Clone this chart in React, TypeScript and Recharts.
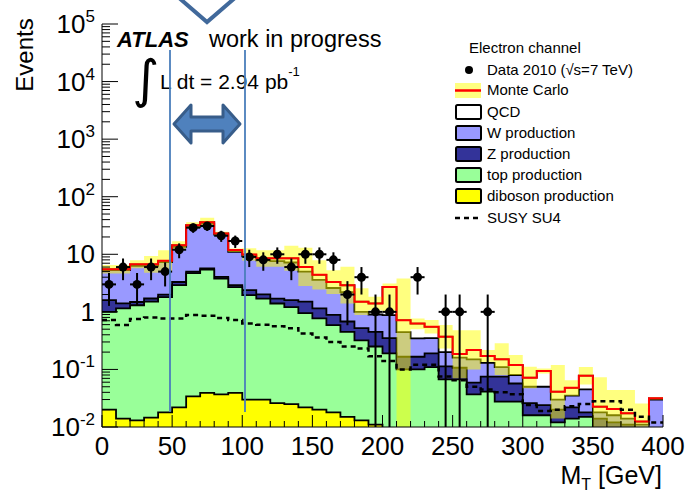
import { ComposedChart, Area, Line, Scatter, ErrorBar, XAxis, YAxis } from "recharts";

const W = 689;
const H = 494;
const FONT = "'Liberation Sans', Arial, Helvetica, sans-serif";

// 10 GeV bins in transverse mass
const binEdges = [0, 10, 20, 30, 40, 50, 60, 70, 80, 90, 100, 110, 120, 130, 140, 150, 160, 170, 180, 190, 200,
  210, 220, 230, 240, 250, 260, 270, 280, 290, 300, 310, 320, 330, 340, 350, 360, 370, 380, 390, 400];

// observed events per bin
const dataCounts = [3, 6, 3, 6, 5, 12, 29, 31, 21, 17, 9, 8, 10, 6, 10, 10, 8, 2, 4, 1,
  1, 0, 4, 0, 1, 1, 0, 1, 0, 0, 0, 0, 0, 0, 0, 0, 0, 0, 0, 0];

// expected events per bin, one array per process (stacked bottom to top)
const diboson = [0.02, 0.014, 0.013, 0.0145, 0.018, 0.022, 0.034, 0.039, 0.037, 0.039, 0.03, 0.03, 0.026, 0.025, 0.022, 0.02, 0.018, 0.015, 0.013, 0.011,
  0.009, 0.008, 0.007, 0.006, 0.004, 0.004, 0.004, 0.004, 0.004, 0.004, 0.004, 0.004, 0.004, 0.004, 0.004, 0.004, 0.004, 0.004, 0.004, 0.004];
const topProd = [0.98, 1.14, 1.29, 1.49, 1.78, 2.88, 4.67, 5.36, 3.76, 2.66, 1.93, 1.67, 1.37, 1.18, 0.93, 0.75, 0.57, 0.435, 0.307, 0.239,
  0.181, 0.092, 0.093, 0.104, 0.063, 0.063, 0.033, 0.037, 0.0235, 0.0235, 0.012, 0.012, 0.008, 0.01, 0.011, 0.005, 0.004, 0.002, 0.001, 0.001];
const zProd = [0.6, 0.25, 0.18, 0.2, 0.2, 0.4, 0.3, 0.3, 0.27, 0.22, 0.43, 0.31, 0.3, 0.4, 0.55, 0.38, 0.3, 0.23, 0.2, 0.2,
  0.16, 0.066, 0.066, 0.08, 0.046, 0.04, 0.022, 0.034, 0.0475, 0.0295, 0.01, 0.008, 0.008, 0.008, 0.003, 0.005, 0.004, 0.005, 0.003, 0.003];
const wProd = [3.7, 3.9, 4.82, 4.6, 5.3, 10.2, 25, 28.3, 17.9, 8.1, 6.8, 5.8, 5.9, 5.6, 3.5, 2.45, 1.71, 1.52, 0.48, 0.45,
  0.53, 0.28, 0.18, 0.16, 0.087, 0.053, 0.091, 0.055, 0.035, 0.023, 0.024, 0.026, 0.01, 0.013, 0.027, 0.004, 0.004, 0.003, 0.003, 0.022];
const qcd = [0.2, 0.2, 0.4, 0.4, 0.4, 0.9, 2, 2, 1, 0.8, 0.7, 0.7, 0.9, 1.3, 1.0, 0.8, 0.7, 0.7, 0.5, 0.5,
  1.82, 0.27, 0.28, 0.2, 0.17, 0.025, 0.067, 0.041, 0.04, 0.039, 0.022, 0.044, 0.011, 0.013, 0.033, 0.0045, 0.0045, 0.0033, 0.0014, 0.0015];

// MC uncertainty band (lower / upper edge)
const bandLow = [4.65, 4.65, 5.7, 4.8, 5.0, 12.3, 28.4, 30, 21.5, 11, 7.7, 6.1, 6.1, 5.2, 2.8, 2.45, 2.05, 1.4, 0.88, 1.07,
  1.0, 0.005, 0.5, 0.42, 0.23, 0.07, 0.1, 0.135, 0.08, 0.08, 0.047, 0.085, 0.014, 0.035, 0.055, 0.007, 0.0095, 0.0068, 0.006, 0.03];
const bandUp = [6.5, 6.5, 7.9, 9.3, 11.8, 16.9, 36, 43, 24.6, 12.6, 12.7, 11.8, 11.8, 14, 13, 7.9, 5.3, 6.07, 2.56, 1.83,
  3.12, 3.8, 0.77, 0.72, 0.59, 0.48, 0.48, 0.217, 0.284, 0.178, 0.111, 0.104, 0.119, 0.065, 0.11, 0.073, 0.044, 0.044, 0.0257, 0.033];

// SUSY SU4 signal, not stacked
const susy = [0.72, 0.59, 0.75, 0.8, 0.77, 0.77, 0.88, 0.86, 0.78, 0.72, 0.63, 0.6, 0.56, 0.52, 0.42, 0.36, 0.3, 0.25, 0.23, 0.17,
  0.14, 0.1, 0.12, 0.12, 0.075, 0.065, 0.05, 0.045, 0.04, 0.037, 0.024, 0.019, 0.02, 0.023, 0.025, 0.028, 0.028, 0.02, 0.015, 0.012];

const xLabelTicks = [0, 50, 100, 150, 200, 250, 300, 350, 400];
const topTicks = Array.from({ length: 25 }, (_, i) => (i * 50) / 3);
const yDecades = [-2, -1, 0, 1, 2, 3, 4, 5];
const yTicks: number[] = [];
yDecades.forEach((e) => {
  const n = e === 5 ? 1 : 9;
  for (let m = 1; m <= n; m++) yTicks.push(Number((m * Math.pow(10, e)).toPrecision(3)));
});

const legendBoxes = [
  { label: "QCD", fill: "#ffffff" },
  { label: "W production", fill: "#9999ff" },
  { label: "Z production", fill: "#333399" },
  { label: "top production", fill: "#99ff99" },
  { label: "diboson production", fill: "#ffff00" },
];

// cumulative stack, one row per bin edge (last edge repeats the last bin for the step)
const rows = binEdges.map((x, i) => {
  const k = Math.min(i, binEdges.length - 2);
  const floor = (v: number) => Math.max(v, 1e-3);
  const dib = diboson[k];
  const top = dib + topProd[k];
  const z = top + zProd[k];
  const w = z + wProd[k];
  const mc = w + qcd[k];
  return {
    x,
    dib: floor(dib),
    top: floor(top),
    z: floor(z),
    w: floor(w),
    mc: floor(mc),
    band: [bandLow[k], bandUp[k]],
    susy: susy[k],
  };
});

const points = dataCounts
  .map((n, k) => ({
    x: binEdges[k] + 5,
    n,
    ex: 5,
    ey: [n - Math.max(n - Math.sqrt(n), 0.01), Math.sqrt(n)],
  }))
  .filter((p) => p.n > 0);

const isDecade = (v: number) => {
  const e = Math.log10(v);
  return Math.abs(e - Math.round(e)) < 1e-6;
};

const BottomTick = ({ x, y, payload }: any) => {
  const v = payload.value;
  const major = xLabelTicks.includes(v);
  return (
    <g>
      <line x1={x} y1={y} x2={x} y2={y - (major ? 12 : 6)} stroke="#000" strokeWidth={1} />
      {major && (
        <text x={x} y={y + 28} textAnchor="middle" fontSize={26} fontFamily={FONT} fill="#000">
          {v}
        </text>
      )}
    </g>
  );
};

const TopTick = ({ x, y, payload }: any) => {
  const major = Math.abs(payload.value % 50) < 1e-6;
  return <line x1={x} y1={y} x2={x} y2={y + (major ? 9 : 5)} stroke="#000" strokeWidth={1} />;
};

const LeftTick = ({ x, y, payload }: any) => {
  const v = payload.value;
  const major = isDecade(v);
  const e = Math.round(Math.log10(v));
  return (
    <g>
      <line x1={x} y1={y} x2={x + (major ? 16 : 8)} y2={y} stroke="#000" strokeWidth={1} />
      {major && (
        <text x={x - 7} y={y + 9} textAnchor="end" fontSize={26} fontFamily={FONT} fill="#000">
          {e === 0 ? "1" : "10"}
          {e !== 0 && e !== 1 && (
            <tspan fontSize={17} dy={-11}>
              {e}
            </tspan>
          )}
        </text>
      )}
    </g>
  );
};

const RightTick = ({ x, y, payload }: any) => {
  const major = isDecade(payload.value);
  return <line x1={x} y1={y} x2={x - (major ? 16 : 8)} y2={y} stroke="#000" strokeWidth={1} />;
};

const DataDot = (p: any) => <circle cx={p.cx} cy={p.cy} r={4.5} fill="#000" />;

const Decorations = () => (
  <svg width={W} height={H} style={{ position: "absolute", left: 0, top: 0, pointerEvents: "none" }} fontFamily={FONT}>
    {/* axis titles */}
    <text transform="translate(33,55) rotate(-90)" textAnchor="middle" fontSize={24} fill="#000">
      Events
    </text>
    <text x={662} y={484} textAnchor="end" fontSize={25} fill="#000">
      M<tspan fontSize={16} dy={6}>T</tspan>
      <tspan dy={-6}> [GeV]</tspan>
    </text>

    {/* experiment label */}
    <text x={117} y={47} fontSize={22} fontWeight="bold" fontStyle="italic" fill="#000">
      ATLAS
    </text>
    <text x={209} y={47} fontSize={23.5} fill="#000">
      work in progress
    </text>
    <text x={132} y={97} fontSize={52} fill="#000" fontFamily="'DejaVu Sans', sans-serif">
      ∫
    </text>
    <text x={160} y={89} fontSize={21} fill="#000">
      L dt = 2.94 pb<tspan fontSize={13} dy={-13}>-1</tspan>
    </text>

    {/* highlighted window */}
    <line x1={170} y1={50} x2={170} y2={412} stroke="#4a7ebb" strokeWidth={1.8} />
    <line x1={245} y1={50} x2={245} y2={412} stroke="#4a7ebb" strokeWidth={1.8} />
    <polygon
      points="174,124 191,105 191,117 223,117 223,105 240,124 223,143 223,131 191,131 191,143"
      fill="#4f81bd"
      stroke="#385d8a"
      strokeWidth={3}
      strokeLinejoin="round"
    />
    <polyline points="178,-3 207,22 236,-3" fill="none" stroke="#41699b" strokeWidth={4} />

    {/* legend */}
    <text x={469} y={53} fontSize={15} fill="#000">Electron channel</text>
    <circle cx={469} cy={70} r={4} fill="#000" />
    <text x={487} y={75} fontSize={15} fill="#000">Data 2010 (√s=7 TeV)</text>
    <rect x={455} y={83} width={26} height={15} fill="#ffff80" />
    <line x1={455} y1={90.5} x2={481} y2={90.5} stroke="#ff0000" strokeWidth={2.5} />
    <text x={487} y={95} fontSize={15} fill="#000">Monte Carlo</text>
    {legendBoxes.map((b, i) => (
      <g key={b.label}>
        <rect x={456} y={105 + i * 21} width={25} height={14} rx={1.5} fill={b.fill} stroke="#000" strokeWidth={2} />
        <text x={487} y={117 + i * 21} fontSize={15} fill="#000">
          {b.label}
        </text>
      </g>
    ))}
    <line x1={455} y1={218} x2={481} y2={218} stroke="#000" strokeWidth={2.5} strokeDasharray="5 4" />
    <text x={487} y={223} fontSize={15} fill="#000">SUSY SU4</text>
  </svg>
);

const outline = { stroke: "#000", strokeWidth: 1.8 };

export default function App() {
  return (
    <div style={{ position: "relative", width: W, height: H, background: "#fff" }}>
      <style>{"body{margin:0}"}</style>
      <ComposedChart width={W} height={H} data={rows} margin={{ top: 24, right: 26, bottom: 0, left: 0 }}>
        <Area dataKey="mc" type="stepAfter" fill="#ffffff" fillOpacity={1} {...outline} baseValue="dataMin" isAnimationActive={false} />
        <Area dataKey="w" type="stepAfter" fill="#9999ff" fillOpacity={1} {...outline} baseValue="dataMin" isAnimationActive={false} />
        <Area dataKey="z" type="stepAfter" fill="#333399" fillOpacity={1} {...outline} baseValue="dataMin" isAnimationActive={false} />
        <Area dataKey="top" type="stepAfter" fill="#99ff99" fillOpacity={1} {...outline} baseValue="dataMin" isAnimationActive={false} />
        <Area dataKey="dib" type="stepAfter" fill="#ffff00" fillOpacity={1} {...outline} baseValue="dataMin" isAnimationActive={false} />
        <Area dataKey="band" type="stepAfter" fill="#ffff00" fillOpacity={0.5} stroke="none" isAnimationActive={false} />
        <Line dataKey="mc" type="stepAfter" stroke="#ff0000" strokeWidth={2} dot={false} activeDot={false} isAnimationActive={false} />
        <Line dataKey="susy" type="stepAfter" stroke="#000" strokeWidth={2.5} strokeDasharray="5 4" dot={false} activeDot={false} isAnimationActive={false} />
        <Scatter data={points} dataKey="n" shape={DataDot} isAnimationActive={false}>
          <ErrorBar dataKey="ex" direction="x" width={0} stroke="#000" strokeWidth={2} isAnimationActive={false} />
          <ErrorBar dataKey="ey" direction="y" width={0} stroke="#000" strokeWidth={2} isAnimationActive={false} />
        </Scatter>
        <XAxis
          dataKey="x"
          type="number"
          domain={[0, 400]}
          ticks={binEdges}
          interval={0}
          allowDataOverflow
          height={67}
          tickSize={0}
          tickMargin={0}
          tickLine={false}
          axisLine={{ stroke: "#000", strokeWidth: 1 }}
          tick={(p: any) => <BottomTick {...p} />}
        />
        <XAxis
          xAxisId="top"
          orientation="top"
          type="number"
          domain={[0, 400]}
          ticks={topTicks}
          interval={0}
          allowDataOverflow
          height={0}
          tickSize={0}
          tickMargin={0}
          tickLine={false}
          axisLine={{ stroke: "#000", strokeWidth: 1 }}
          tick={(p: any) => <TopTick {...p} />}
        />
        <YAxis
          scale="log"
          type="number"
          domain={[0.01, 100000]}
          ticks={yTicks}
          interval={0}
          allowDataOverflow
          width={102}
          tickSize={0}
          tickMargin={0}
          tickLine={false}
          axisLine={{ stroke: "#000", strokeWidth: 1 }}
          tick={(p: any) => <LeftTick {...p} />}
        />
        <YAxis
          yAxisId="right"
          orientation="right"
          scale="log"
          type="number"
          domain={[0.01, 100000]}
          ticks={yTicks}
          interval={0}
          allowDataOverflow
          width={0}
          tickSize={0}
          tickMargin={0}
          tickLine={false}
          axisLine={{ stroke: "#000", strokeWidth: 1 }}
          tick={(p: any) => <RightTick {...p} />}
        />
      </ComposedChart>
      <Decorations />
    </div>
  );
}
